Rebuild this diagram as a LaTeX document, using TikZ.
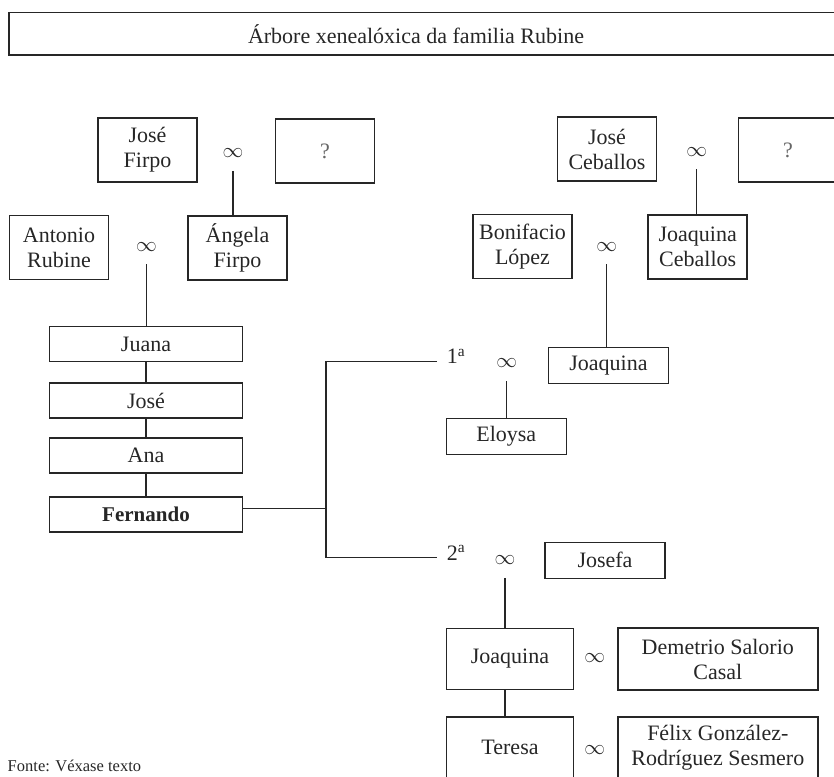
\documentclass[tikz,border=0pt]{standalone}
\usepackage{fontspec}
\setmainfont{Liberation Serif}
\usepackage{tikz}

\tikzset{
  caixa/.style={draw, inner sep=0pt, align=center, font=\fontsize{22}{25}\selectfont},
  dobre/.style={caixa, minimum width=99pt, minimum height=64pt},
  longa/.style={caixa, minimum width=193pt, minimum height=35pt},
  media/.style={caixa, minimum width=120pt, minimum height=36pt},
  alta/.style={caixa, minimum width=127pt, minimum height=61pt},
  ancha/.style={caixa, minimum width=200pt, minimum height=62pt},
  casa/.style={inner sep=0pt, minimum height=34pt, font=\fontsize{20}{20}\selectfont},
  orde/.style={anchor=mid west, inner xsep=9pt, inner ysep=0pt, font=\fontsize{22}{25}\selectfont}
}

\begin{document}
\begin{tikzpicture}[x=1pt, y=-1pt, line width=1.5pt, color=black!85]
        \useasboundingbox (0,0) rectangle (834,776);
        \clip (0,0) rectangle (834,776);

        \draw (9,12.5) rectangle (850,55);                                  %title, open on the right
        \node (titulo) [anchor=base, font=\fontsize{22}{25}\selectfont] at (416,43.5) {Árbore xenealóxica da familia Rubine};

        \node (jfirpo)   [dobre]            at (147.5,150)  {José\\Firpo};       %
        \node (m1)       [casa]             at (233,153)    {$\infty$};          %
        \node (qfirpo)   [dobre]            at (325,151)    {\textcolor{black!60}{?}};
        \node (arubine)  [dobre]            at (59,247.5)   {Antonio\\Rubine};   %
        \node (m2)       [casa]             at (146.5,246.7){$\infty$};          %
        \node (afirpo)   [dobre]            at (237.5,248)  {Ángela\\Firpo};     %

        \node (juana)    [longa]            at (146,344)    {Juana};             %
        \node (jose)     [longa]            at (146,400.5)  {José};              %
        \node (ana)      [longa]            at (146,455.3)  {Ana};               %
        \node (fernando) [longa, font=\fontsize{21}{25}\selectfont\bfseries] at (146,514.5) {Fernando};

        \node (jceballos)[dobre]            at (607,149)    {José\\Ceballos};    %
        \node (m3)       [casa]             at (696.7,151.7){$\infty$};          %
        \node (qceballos)[dobre]            at (788,150)    {\textcolor{black!60}{?}};
        \node (blopez)   [dobre]            at (522.5,246.7){Bonifacio\\López};  %
        \node (m4)       [casa]             at (606.7,246.7){$\infty$};          %
        \node (jqceballos)[dobre]           at (697.7,247)  {Joaquina\\Ceballos};
        \node (joaquinal)[media]            at (608.5,365.5){Joaquina};          %

        \coordinate (rama)                  at (326,508.3);                      %
        \node (ord1)     [orde]             at (437,361.3)  {1\textsuperscript{a}};
        \node (m5)       [casa]             at (506.7,363.3){$\infty$};          %
        \node (eloysa)   [media]            at (506.3,436.7){Eloysa};            %
        \node (ord2)     [orde]             at (437,557.7)  {2\textsuperscript{a}};
        \node (m6)       [casa]             at (505,560)    {$\infty$};          %
        \node (josefa)   [media]            at (605,560.3)  {Josefa};            %

        \node (joaquinas)[alta]             at (510,658.8)  {Joaquina};          %
        \node (m7)       [casa]             at (594.7,658.3){$\infty$};          %
        \node (demetrio) [ancha]            at (717.8,659)  {Demetrio Salorio\\Casal};
        \node (teresa)   [alta]             at (510,747.5)  {Teresa};            %open below
        \node (m8)       [casa]             at (594.7,750)  {$\infty$};          %
        \node (felix)    [ancha]            at (717.8,748)  {Félix González-\\Rodríguez Sesmero};

        \node (fonte) [anchor=base west, inner sep=0pt, font=\fontsize{16.5}{18}\selectfont] at (7,771) {Fonte: Véxase texto};

        \draw (m1.south) -- (m1.south |- afirpo.north);                     %
        \draw (m2.south) -- (m2.south |- juana.north);                      %
        \draw (juana)    -- (jose);                                         %
        \draw (jose)     -- (ana);                                          %
        \draw (ana)      -- (fernando);                                     %
        \draw (m3.south) -- (m3.south |- jqceballos.north);                 %
        \draw (m4.south) -- (m4.south |- joaquinal.north);                  %
        \draw (fernando.east |- rama) -- (rama);                            %
        \draw (ord1.mid west) -| (rama) |- (ord2.mid west);                 %
        \draw (m5.south) -- (m5.south |- eloysa.north);                     %
        \draw (m6.south) -- (m6.south |- joaquinas.north);                  %
        \draw (m6 |- joaquinas.south) -- (m6 |- teresa.north);              %
\end{tikzpicture}
\end{document}
